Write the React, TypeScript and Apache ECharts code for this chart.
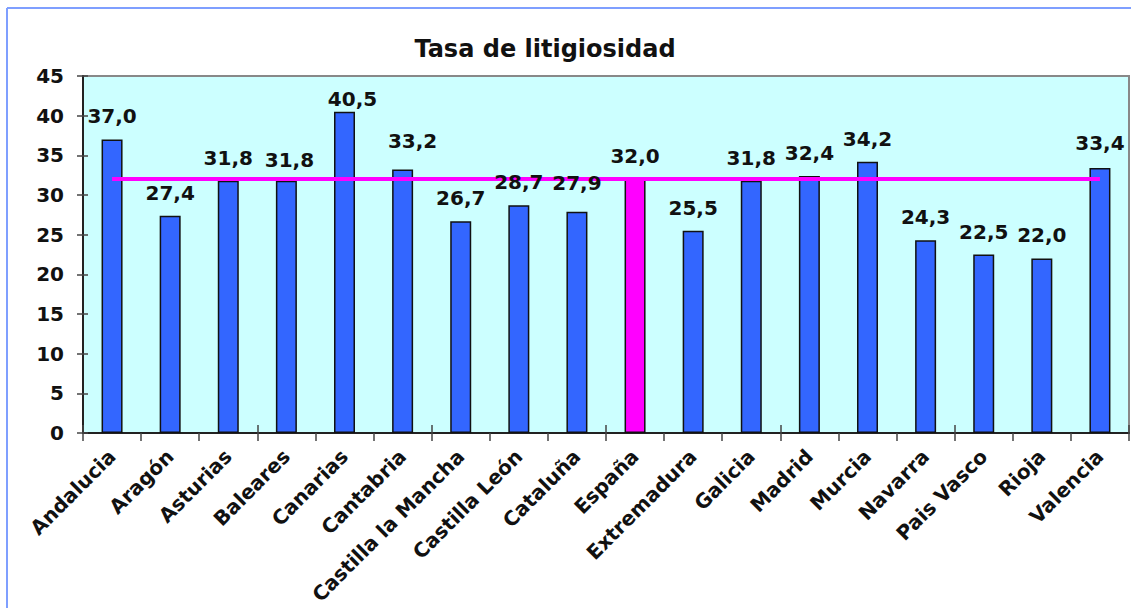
import React, { useEffect, useRef } from 'react';
import * as echarts from 'echarts';

const categories = [
  'Andalucia', 'Aragón', 'Asturias', 'Baleares', 'Canarias', 'Cantabria',
  'Castilla la Mancha', 'Castilla León', 'Cataluña', 'España', 'Extremadura',
  'Galicia', 'Madrid', 'Murcia', 'Navarra', 'Pais Vasco', 'Rioja', 'Valencia',
];
const values = [
  37.0, 27.4, 31.8, 31.8, 40.5, 33.2, 26.7, 28.7, 27.9, 32.0, 25.5,
  31.8, 32.4, 34.2, 24.3, 22.5, 22.0, 33.4,
];
const yMin = 0;
const yMax = 45;
const yInterval = 5;
const titleText = 'Tasa de litigiosidad';
const highlighted = 'España';

// label nudges (style only), pixel offsets by index
const labelNudges: Record<number, [number, number]> = {
  3: [3, 2],
  4: [8, 10],
  5: [10, -6],
  8: [0, -6],
  17: [0, -2],
};

const FONT = 'DejaVu Sans';
const fmt = (v: number) => v.toFixed(1).replace('.', ',');

export default function App() {
  const ref = useRef<HTMLDivElement>(null);
  useEffect(() => {
    document.body.style.margin = '0';
    if (!ref.current) return;
    const chart = echarts.init(ref.current, undefined, { renderer: 'svg' });
    const hiIndex = categories.indexOf(highlighted);
    const refLevel = values[hiIndex];
    const barData = values.map((v, i) => {
      const item: any = { value: v };
      if (i === hiIndex) item.itemStyle = { color: '#ff00ff' };
      return item;
    });
    const labelData = values.map((v, i) => {
      const item: any = { value: v };
      if (labelNudges[i]) item.label = { offset: labelNudges[i] };
      return item;
    });
    const yCommon = { type: 'value', min: yMin, max: yMax, interval: yInterval, splitLine: { show: false } };
    chart.setOption({
      animation: false,
      grid: {
        left: 83, top: 76, right: 2, bottom: 175,
        show: true, backgroundColor: '#ccffff', borderColor: '#888888', borderWidth: 2,
      },
      graphic: [
        { type: 'line', shape: { x1: 7, y1: 8, x2: 1131, y2: 8 }, style: { stroke: '#7f9fff', lineWidth: 2 } },
        { type: 'line', shape: { x1: 7, y1: 8, x2: 7, y2: 608 }, style: { stroke: '#7f9fff', lineWidth: 2 } },
        {
          type: 'text', x: 545, y: 49,
          style: {
            text: titleText, fill: '#111', font: `bold 24px "${FONT}"`,
            textAlign: 'center', textVerticalAlign: 'middle',
          },
        },
      ],
      xAxis: [
        {
          type: 'category', data: categories, boundaryGap: true,
          axisLine: { show: true, lineStyle: { color: '#222', width: 2 } },
          axisTick: { show: true, length: 8, lineStyle: { color: '#444', width: 1.5 } },
          axisLabel: {
            interval: 0, rotate: 45, margin: 20, fontSize: 20, fontWeight: 'bold',
            fontFamily: FONT, color: '#111',
          },
        },
        {
          type: 'category', data: categories, boundaryGap: true, position: 'bottom',
          axisLine: { show: false },
          axisTick: { show: true, inside: true, length: 8, lineStyle: { color: '#444', width: 1.5 } },
          axisLabel: { show: false },
        },
      ],
      yAxis: [
        {
          ...yCommon, position: 'left',
          axisLine: { show: true, lineStyle: { color: '#222', width: 2 } },
          axisTick: { show: true, length: 6, lineStyle: { color: '#444', width: 1.5 } },
          axisLabel: { margin: 19, fontSize: 20, fontWeight: 'bold', fontFamily: FONT, color: '#111' },
        },
        {
          ...yCommon, position: 'left',
          axisLine: { show: false },
          axisTick: { show: true, inside: true, length: 5, lineStyle: { color: '#444', width: 1.5 } },
          axisLabel: { show: false },
        },
      ],
      series: [
        {
          type: 'bar', xAxisIndex: 0, yAxisIndex: 0, data: barData, barWidth: 21, z: 2,
          itemStyle: { color: '#3366ff', borderColor: '#111', borderWidth: 1.5 },
          markLine: {
            silent: true, symbol: 'none', label: { show: false },
            lineStyle: { color: '#ff00ff', width: 4, type: 'solid' },
            data: [[{ coord: [0, refLevel] }, { coord: [categories.length - 1, refLevel] }]],
          },
        },
        {
          type: 'scatter', xAxisIndex: 0, yAxisIndex: 0, data: labelData, z: 10,
          symbolSize: 0, silent: true, itemStyle: { opacity: 1 },
          label: {
            show: true, position: 'top', distance: 13, fontSize: 20, lineHeight: 20,
            fontWeight: 'bold', fontFamily: FONT, color: '#111', opacity: 1,
            formatter: (p: any) => fmt(p.value),
          },
        },
      ],
    });
    return () => chart.dispose();
  }, []);
  return <div ref={ref} style={{ width: 1131, height: 608 }} />;
}
